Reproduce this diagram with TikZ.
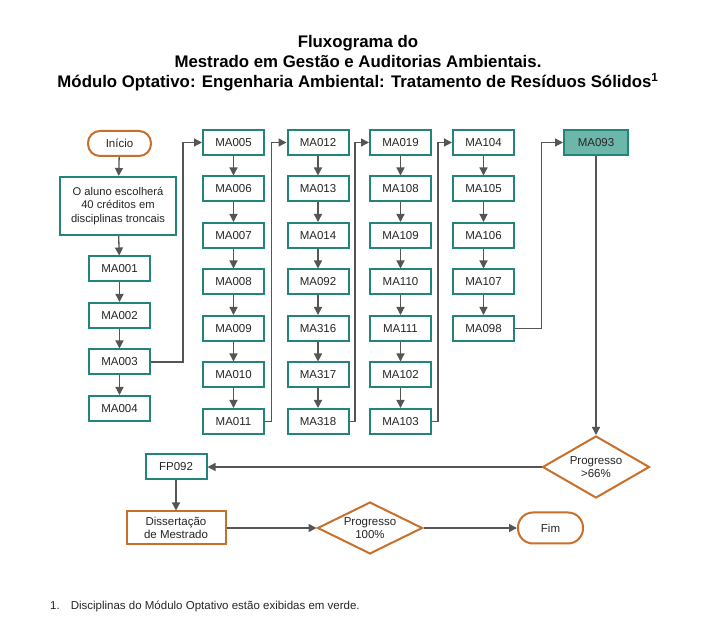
\documentclass[tikz,border=0pt]{standalone}
\usepackage{fontspec}
\setmainfont{Liberation Sans}
\usetikzlibrary{shapes.geometric,arrows.meta}
\definecolor{teal}{HTML}{23857A}
\definecolor{tealfill}{HTML}{6DB6AA}
\definecolor{orng}{HTML}{C8702A}
\definecolor{conn}{HTML}{555555}
\begin{document}
\begin{tikzpicture}[x=1pt,y=-1pt,
  box/.style={draw=teal,line width=2pt,fill=white,minimum width=61pt,minimum height=25pt,inner sep=1pt,font=\fontsize{11.5}{13}\selectfont,text=black!85},
  obox/.style={draw=orng,line width=2pt,fill=white,inner sep=1pt,font=\fontsize{11.5}{13}\selectfont,text=black!85,align=center},
  term/.style={obox,rounded corners=12pt,minimum width=63pt,minimum height=25pt},
  dec/.style={obox,diamond,aspect=1.7,inner sep=0pt},
  arr/.style={draw=conn,line width=1.3pt,-{Triangle[length=8pt,width=8pt]}},
  ln/.style={draw=conn,line width=1.3pt}]
\useasboundingbox (0,0) rectangle (716,644);
\fill[white] (0,0) rectangle (716,644);
% title
\node[font=\fontsize{16.8}{20}\selectfont\bfseries,align=center,inner sep=0pt] (title) at (358,63.5) {Fluxograma do\\Mestrado em Gestão e Auditorias Ambientais.\\Módulo Optativo: Engenharia Ambiental: Tratamento de Resíduos Sólidos\textsuperscript{1}};
% left column
\node[term] (ini) at (119.5,143.5) {Início};
\node[box,minimum width=116pt,minimum height=58pt,align=center,font=\fontsize{11.2}{13.5}\selectfont] (aluno) at (118,206) {O aluno escolherá\\40 créditos em\\disciplinas troncais};
\node[box] (a1) at (119.5,269) {MA001};
\node[box] (a2) at (119.5,315.5) {MA002};
\node[box] (a3) at (119.5,362) {MA003};
\node[box] (a4) at (119.5,408.5) {MA004};
\draw[arr] (ini) -- (aluno);
\draw[arr] (aluno) -- (a1);
\draw[arr] (a1) -- (a2);
\draw[arr] (a2) -- (a3);
\draw[arr] (a3) -- (a4);
% columns
\foreach \c/\x/\names in {b/233.5/{MA005,MA006,MA007,MA008,MA009,MA010,MA011},
                          c/318/{MA012,MA013,MA014,MA092,MA316,MA317,MA318},
                          d/400.5/{MA019,MA108,MA109,MA110,MA111,MA102,MA103}}{
  \foreach \n [count=\i] in \names {
    \node[box] (\c\i) at (\x,{142.5+46.5*(\i-1)}) {\n};
  }
  \foreach \i [evaluate=\i as \j using int(\i+1)] in {1,...,6}{
    \draw[arr] (\c\i) -- (\c\j);
  }
}
\foreach \n [count=\i] in {MA104,MA105,MA106,MA107,MA098}{
  \node[box] (e\i) at (483.5,{142.5+46.5*(\i-1)}) {\n};
}
\foreach \i [evaluate=\i as \j using int(\i+1)] in {1,...,4}{
  \draw[arr] (e\i) -- (e\j);
}
\node[box,fill=tealfill,minimum width=64pt] (f1) at (596,142.5) {MA093};
% column links
\draw[arr] (a3.east) -- (183,362) |- (b1.west);
\draw[arr] (b7.east) -- (271.5,421.5) |- (c1.west);
\draw[arr] (c7.east) -- (355,421.5) |- (d1.west);
\draw[arr] (d7.east) -- (438,421.5) |- (e1.west);
\draw[arr] (e5.east) -- (541.5,328.5) |- (f1.west);
% bottom
\node[dec,minimum width=107pt,minimum height=62pt] (p66) at (596,467) {Progresso\\>66\%};
\node[box] (fp) at (176,467) {FP092};
\node[obox,minimum width=99pt,minimum height=33pt] (diss) at (176,528) {Dissertação\\de Mestrado};
\node[dec,minimum width=105pt,minimum height=47pt] (p100) at (370,528) {Progresso\\100\%};
\node[term,minimum width=65pt,minimum height=31pt,rounded corners=15pt] (fim) at (550.5,528) {Fim};
\draw[arr] (f1) -- (p66);
\draw[arr] (p66) -- (fp);
\draw[arr] (fp) -- (diss);
\draw[arr] (diss) -- (p100);
\draw[arr] (p100) -- (fim);
% footnote
\node[anchor=west,inner sep=0pt,font=\fontsize{11.5}{13}\selectfont,text=black!85] (fn) at (50,606) {1.\hspace{11pt}Disciplinas do Módulo Optativo estão exibidas em verde.};
\end{tikzpicture}
\end{document}
